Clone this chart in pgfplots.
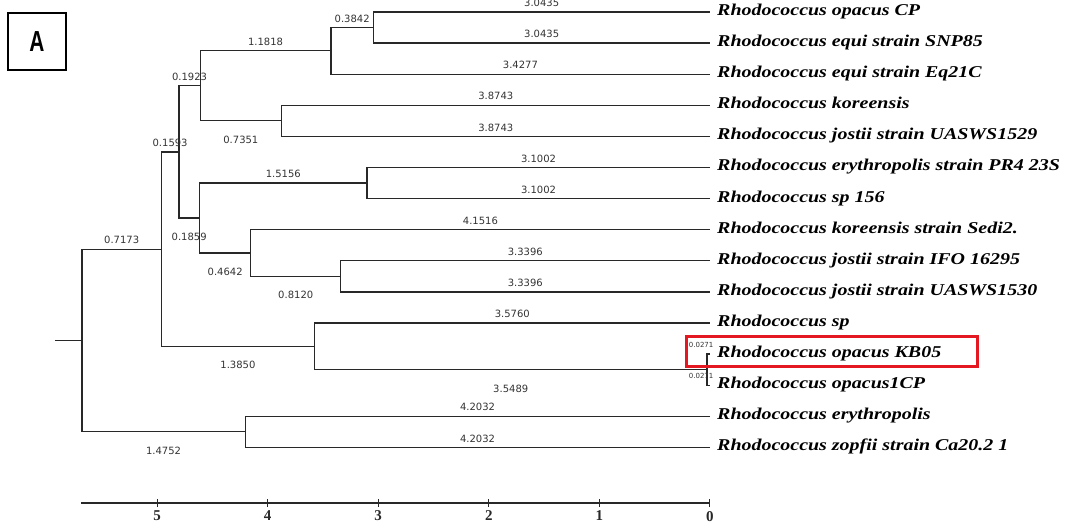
\documentclass[border=0pt]{standalone}
\usepackage{pgfplots}
\pgfplotsset{compat=1.18}
\usepackage{pgfplotstable}
\usepackage{fontspec}
\setmainfont{Liberation Serif}
\newfontfamily\nmfont[FakeStretch=1.21]{Liberation Serif}
\newfontfamily\labfont{DejaVu Sans}
\newfontfamily\afont{Liberation Sans}
\definecolor{treecol}{RGB}{40,40,40}
\definecolor{boxred}{RGB}{228,24,32}

% tree segments: d = distance from tips, i = leaf row (0 = top)
\pgfplotstableread{
d i
5.9220 10.5625
5.6784 10.5625
nan nan
4.9611 7.625
5.6784 7.625
5.6784 13.5
4.2032 13.5
nan nan
0 13
4.2032 13
4.2032 14
0 14
nan nan
4.8018 4.5
4.9611 4.5
4.9611 10.75
3.5760 10.75
nan nan
0 10
3.5760 10
3.5760 11.5
0.0271 11.5
nan nan
0 11
0.0271 11
0.0271 12
0 12
nan nan
4.6095 2.375
4.8018 2.375
4.8018 6.625
4.6159 6.625
nan nan
3.4277 1.25
4.6095 1.25
4.6095 3.5
3.8743 3.5
nan nan
3.0435 0.5
3.4277 0.5
3.4277 2
0 2
nan nan
0 0
3.0435 0
3.0435 1
0 1
nan nan
0 3
3.8743 3
3.8743 4
0 4
nan nan
3.1002 5.5
4.6159 5.5
4.6159 7.75
4.1516 7.75
nan nan
0 5
3.1002 5
3.1002 6
0 6
nan nan
0 7
4.1516 7
4.1516 8.5
3.3396 8.5
nan nan
0 8
3.3396 8
3.3396 9
0 9
}\treedata

\pgfplotstableread[col sep=comma]{
d,i,lab
1.5218,0,3.0435
1.5218,1,3.0435
1.7139,2,3.4277
1.9372,3,3.8743
1.9372,4,3.8743
1.5501,5,3.1002
1.5501,6,3.1002
2.0758,7,4.1516
1.6698,8,3.3396
1.6698,9,3.3396
1.7880,10,3.5760
2.1016,13,4.2032
2.1016,14,4.2032
3.2356,0.5,0.3842
4.0186,1.25,1.1818
4.7057,2.375,0.1923
4.8815,4.5,0.1593
3.8580,5.5,1.5156
5.3198,7.625,0.7173
}\abovelabels

\pgfplotstableread[col sep=comma]{
d,i,lab
4.2419,3.5,0.7351
4.7089,6.625,0.1859
4.3838,7.75,0.4642
3.7456,8.5,0.8120
4.2686,10.75,1.3850
1.8016,11.5,3.5489
4.9408,13.5,1.4752
}\belowlabels

\pgfplotstableread[col sep=comma]{
d,i,lab
0.08,11,0.0271
0.08,12,0.0271
}\smalllabels

\pgfplotstableread[col sep=comma]{
d,i,name
0,0,Rhodococcus opacus CP
0,1,Rhodococcus equi strain SNP85
0,2,Rhodococcus equi strain Eq21C
0,3,Rhodococcus koreensis
0,4,Rhodococcus jostii strain UASWS1529
0,5,Rhodococcus erythropolis strain PR4 23S
0,6,Rhodococcus sp 156
0,7,Rhodococcus koreensis strain Sedi2.
0,8,Rhodococcus jostii strain IFO 16295
0,9,Rhodococcus jostii strain UASWS1530
0,10,Rhodococcus sp
0,11,Rhodococcus opacus KB05
0,12,Rhodococcus opacus1CP
0,13,Rhodococcus erythropolis
0,14,Rhodococcus zopfii strain Ca20.2 1
}\leafnames

\begin{document}
\begin{tikzpicture}
\useasboundingbox (0,0) rectangle (1072pt,529pt);
\begin{axis}[
  at={(81pt,26pt)}, anchor=south west,
  scale only axis, width=629pt, height=503pt,
  x dir=reverse,
  xmin=0, xmax=5.6873,
  ymin=-15.7878, ymax=0.3859,
  axis x line=bottom, axis y line=none,
  every outer x axis line/.append style={-},
  x axis line style={-, line width=1.5pt, color=treecol},
  xtick={0,1,2,3,4,5}, xticklabels={0,1,2,3,4,5},
  tick align=center, major tick length=8pt,
  every tick/.style={line width=1pt, color=treecol},
  xticklabel style={font=\fontsize{15}{15}\selectfont\bfseries, text=treecol, yshift=-0.5pt},
  ytick=\empty,
  clip=false,
  unbounded coords=jump,
]
\addplot[line width=1.25pt, color=treecol] table[x=d, y expr=-\thisrow{i}] {\treedata};

\addplot[only marks, mark=none, nodes near coords, point meta=explicit symbolic,
  nodes near coords style={font=\labfont\fontsize{10}{10}\selectfont, text=black!80, anchor=center, inner sep=0pt, yshift=9pt}]
  table[x=d, y expr=-\thisrow{i}, meta=lab] {\abovelabels};

\addplot[only marks, mark=none, nodes near coords, point meta=explicit symbolic,
  nodes near coords style={font=\labfont\fontsize{10}{10}\selectfont, text=black!80, anchor=center, inner sep=0pt, yshift=-19pt}]
  table[x=d, y expr=-\thisrow{i}, meta=lab] {\belowlabels};

\addplot[only marks, mark=none, nodes near coords, point meta=explicit symbolic,
  nodes near coords style={font=\labfont\fontsize{7}{7}\selectfont, text=black!80, anchor=center, inner sep=0pt, yshift=9pt}]
  table[x=d, y expr=-\thisrow{i}, meta=lab] {\smalllabels};

\addplot[only marks, mark=none, nodes near coords, point meta=explicit symbolic,
  nodes near coords style={font=\nmfont\fontsize{16.5}{18}\selectfont\bfseries\itshape, text=black, anchor=base west, inner sep=0pt, xshift=7pt, yshift=-3.5pt}]
  table[x=d, y expr=-\thisrow{i}, meta=name] {\leafnames};
\end{axis}
\draw[line width=2pt] (8pt,459pt) rectangle (66pt,516pt);
\node at (37pt,487.5pt) {\afont\fontsize{29}{29}\selectfont\scalebox{0.72}[1]{\bfseries A}};
\draw[boxred, line width=3pt] (686pt,162pt) rectangle (977pt,192pt);
\end{tikzpicture}
\end{document}
